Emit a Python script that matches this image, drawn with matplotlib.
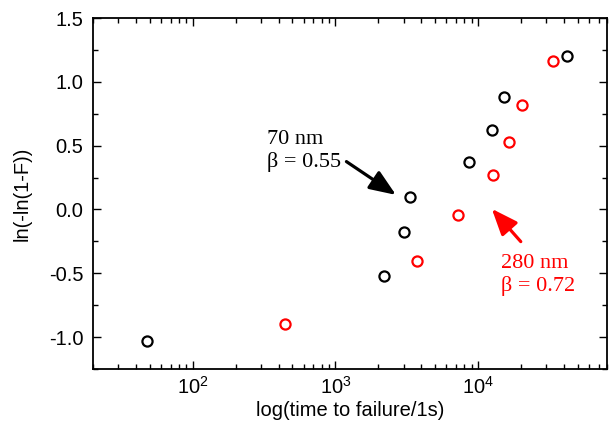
import matplotlib
matplotlib.use("Agg")
import matplotlib.pyplot as plt
from matplotlib.ticker import LogLocator, MultipleLocator, NullFormatter

# Weibull plot: time to failure for two film thicknesses
t_70nm = [48, 2200, 3000, 3320, 8650, 12600, 15100, 41700]
w_70nm = [-1.03, -0.52, -0.18, 0.10, 0.37, 0.62, 0.88, 1.20]

t_280nm = [440, 3715, 7240, 12790, 16480, 20230, 33650]
w_280nm = [-0.90, -0.40, -0.04, 0.27, 0.53, 0.82, 1.16]

plt.rcParams['font.family'] = ['Liberation Sans', 'DejaVu Sans']

fig = plt.figure(figsize=(6.09, 4.33), dpi=100)
ax = fig.add_axes([93 / 609, 1 - 369 / 433, (607 - 93) / 609, (369 - 18) / 433])

ms, mew = 7.3, 1.6
ax.plot(t_70nm, w_70nm, 'o', mfc='none', mec='black', ms=ms, mew=mew, zorder=3)
ax.plot(t_280nm, w_280nm, 'o', mfc='none', mec='#ff0000', ms=ms, mew=mew, zorder=3)

ax.set_xscale('log')
ax.set_xlim(20, 80000)
ax.set_ylim(-1.25, 1.5)

ax.xaxis.set_major_locator(LogLocator(base=10, numticks=10))
ax.xaxis.set_minor_locator(LogLocator(base=10, subs=range(2, 10), numticks=20))
ax.xaxis.set_minor_formatter(NullFormatter())
ax.yaxis.set_major_locator(MultipleLocator(0.5))
ax.yaxis.set_minor_locator(MultipleLocator(0.25))
ax.yaxis.set_major_formatter(plt.FuncFormatter(lambda v, p: f"{v:.1f}"))

ax.tick_params(which='both', direction='in', top=True, right=True, labelsize=14.5,
               width=1.0, colors='black')
ax.tick_params(which='major', length=6)
ax.tick_params(axis='y', which='major', pad=7)
ax.tick_params(axis='x', which='major', pad=5)
ax.tick_params(which='minor', length=3.5)
for s in ax.spines.values():
    s.set_linewidth(1.3)

ax.set_xlabel('log(time to failure/1s)', fontsize=14.5, labelpad=2)
ax.set_ylabel('ln(-ln(1-F))', fontsize=14.5, labelpad=12)

# Annotations
serif = ['Liberation Serif', 'DejaVu Serif']
arrow = dict(arrowstyle='-|>,head_length=1.0,head_width=0.4', lw=2.3,
             shrinkA=0, shrinkB=0, mutation_scale=16)

ax.annotate('', xy=(2655, 0.114), xytext=(1194, 0.375),
            arrowprops=dict(arrow, color='black'))
ax.text(334, 0.46, '70 nm\nβ = 0.55', fontsize=16, family=serif,
        color='black', ha='left', va='center', linespacing=1.2)

ax.annotate('', xy=(12470, 0.005), xytext=(19900, -0.252),
            arrowprops=dict(arrow, color='#ff0000'))
ax.text(14420, -0.51, '280 nm\nβ = 0.72', fontsize=16, family=serif,
        color='#ff0000', ha='left', va='center', linespacing=1.2)

fig.savefig('out.png', dpi=100)
